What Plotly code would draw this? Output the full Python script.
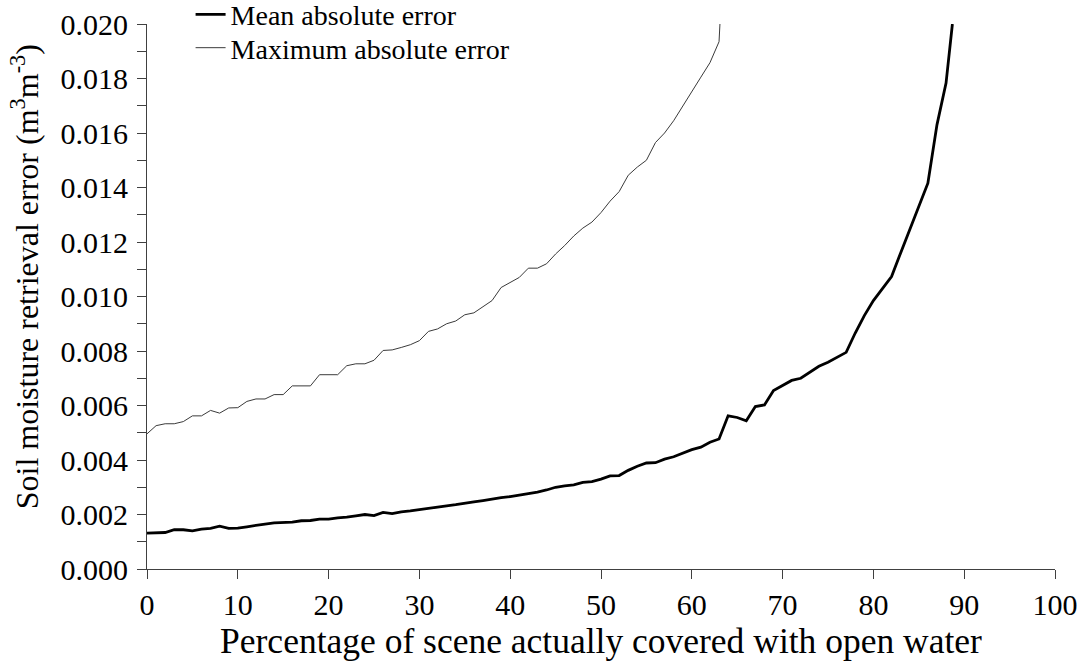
import plotly.graph_objects as go

# Percentage of scene covered with open water
mean_x = list(range(0, 89)) + [88.7]
mean_err = [
    0.00132, 0.00133, 0.00134, 0.00144, 0.00144, 0.00140, 0.00146, 0.00149, 0.00157, 0.00149,
    0.00150, 0.00155, 0.00161, 0.00165, 0.00169, 0.00170, 0.00172, 0.00177, 0.00178, 0.00183,
    0.00183, 0.00188, 0.00190, 0.00195, 0.00200, 0.00196, 0.00208, 0.00203, 0.00210, 0.00213,
    0.00218, 0.00224, 0.00229, 0.00232, 0.00236, 0.00240, 0.00246, 0.00251, 0.00257, 0.00262,
    0.00266, 0.00271, 0.00276, 0.00282, 0.00290, 0.00300, 0.00305, 0.00309, 0.00318, 0.00321,
    0.00330, 0.00342, 0.00343, 0.00362, 0.00377, 0.00389, 0.00390, 0.00403, 0.00412, 0.00425,
    0.00438, 0.00447, 0.00465, 0.00477, 0.00562, 0.00556, 0.00544, 0.00596, 0.00602, 0.00655,
    0.00674, 0.00692, 0.00700, 0.00722, 0.00744, 0.00759, 0.00776, 0.00795, 0.00866, 0.00930,
    0.00985, 0.01030, 0.01073, 0.01160, 0.01245, 0.01330, 0.01416, 0.01630, 0.01783, 0.02000,
]

max_x = list(range(0, 64)) + [63.1]
max_err = [
    0.00496, 0.00526, 0.00533, 0.00533, 0.00541, 0.00562, 0.00562, 0.00582, 0.00572, 0.00591,
    0.00592, 0.00615, 0.00624, 0.00624, 0.00640, 0.00640, 0.00672, 0.00672, 0.00672, 0.00713,
    0.00713, 0.00713, 0.00746, 0.00753, 0.00753, 0.00766, 0.00802, 0.00804, 0.00813, 0.00823,
    0.00838, 0.00872, 0.00881, 0.00900, 0.00910, 0.00933, 0.00940, 0.00963, 0.00985, 0.01033,
    0.01050, 0.01070, 0.01104, 0.01104, 0.01120, 0.01156, 0.01187, 0.01222, 0.01251, 0.01273,
    0.01308, 0.01350, 0.01385, 0.01445, 0.01475, 0.01500, 0.01565, 0.01600, 0.01645, 0.01700,
    0.01750, 0.01805, 0.01858, 0.01935, 0.02000,
]

series_names = ["Mean absolute error", "Maximum absolute error"]
x_title = "Percentage of scene actually covered with open water"
y_title = "Soil moisture retrieval error (m<sup>3</sup>m<sup>-3</sup>)"

FONT = "Liberation Serif, Times New Roman, serif"
AX = "#404040"

fig = go.Figure()
fig.add_trace(go.Scatter(x=mean_x, y=mean_err, mode="lines", name=series_names[0],
                         line=dict(color="black", width=2.8), legend="legend"))
fig.add_trace(go.Scatter(x=max_x, y=max_err, mode="lines", name=series_names[1],
                         line=dict(color="#3a3a3a", width=1), legend="legend2"))

leg_common = dict(x=0.048, xanchor="left", yanchor="middle",
                  bgcolor="rgba(0,0,0,0)", borderwidth=0,
                  font=dict(family=FONT, size=28, color="black"))

fig.update_layout(
    width=1081, height=666,
    margin=dict(l=147, r=26, t=24, b=97, autoexpand=False),
    paper_bgcolor="white", plot_bgcolor="white",
    font=dict(family=FONT, size=28, color="black"),
    showlegend=True,
    legend=dict(y=1.017, **leg_common),
    legend2=dict(y=0.956, **leg_common),
    xaxis=dict(range=[0, 100], dtick=10, tick0=0, showgrid=False, zeroline=False,
               showline=True, linecolor=AX, linewidth=1,
               ticks="outside", ticklen=9, tickcolor=AX, tickwidth=1,
               ticklabeloverflow="allow",
               tickfont=dict(family=FONT, size=30),
               title=dict(text=x_title, font=dict(family=FONT, size=35.5), standoff=0)),
    yaxis=dict(range=[0, 0.020], dtick=0.002, tick0=0, tickformat=".3f",
               showgrid=False, zeroline=False,
               showline=True, linecolor=AX, linewidth=1,
               ticks="outside", ticklen=9, tickcolor=AX, tickwidth=1,
               ticklabelstandoff=3, ticklabeloverflow="allow",
               minor=dict(dtick=0.001, ticks="outside", ticklen=9, tickcolor=AX, tickwidth=1,
                          showgrid=False),
               tickfont=dict(family=FONT, size=30)),
    annotations=[dict(text=y_title, textangle=-90, xref="paper", yref="paper",
                      x=-0.135, y=0.536, xanchor="center", yanchor="middle",
                      showarrow=False, font=dict(family=FONT, size=32, color="black"))],
)

fig.write_html("out.html", config={"displayModeBar": False},
               post_script="document.body.style.margin='0px';")
